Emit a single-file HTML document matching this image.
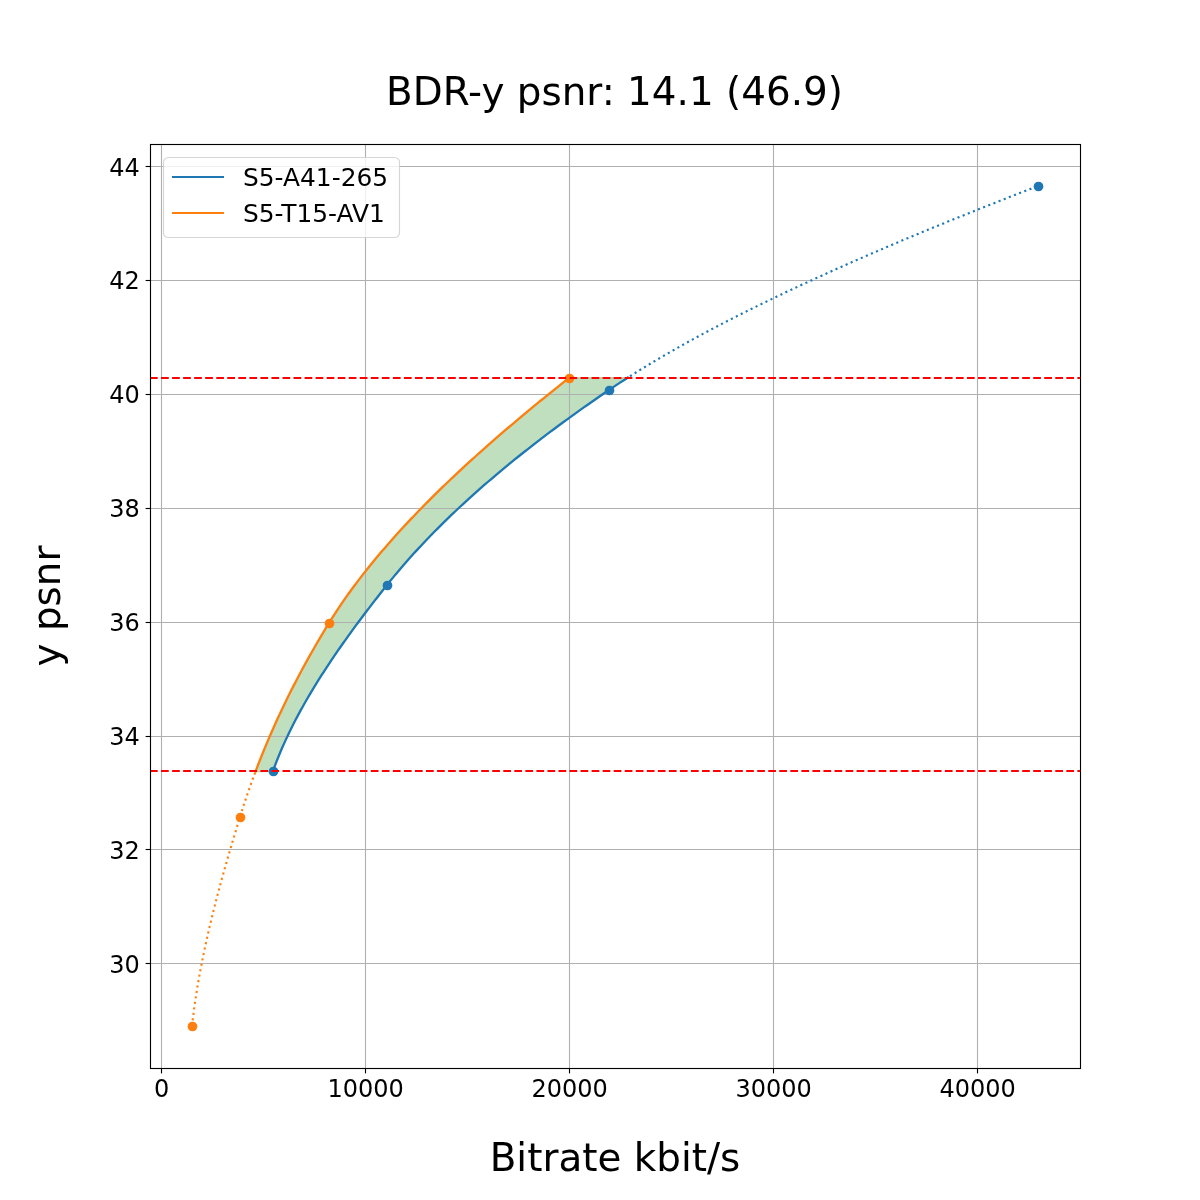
<!DOCTYPE html>
<html lang="en"><head><meta charset="utf-8"><title>BDR-y psnr</title>
<style>html,body{margin:0;padding:0;background:#fff}body{width:1200px;height:1200px;overflow:hidden}svg{display:block}</style>
</head><body>
<svg width="1200" height="1200" viewBox="0 0 1200 1200">
<rect x="0" y="0" width="1200" height="1200" fill="#ffffff"/>
<defs><clipPath id="axclip"><rect x="150" y="144" width="930" height="924"/></clipPath></defs>
<g clip-path="url(#axclip)">
<path d="M255.51 771.60 L256.45 769.12 L257.40 766.65 L258.35 764.17 L259.32 761.69 L260.29 759.21 L261.28 756.74 L262.27 754.26 L263.28 751.78 L264.29 749.30 L265.31 746.83 L266.35 744.35 L267.39 741.87 L268.44 739.39 L269.50 736.92 L270.57 734.44 L271.65 731.96 L272.74 729.48 L273.84 727.01 L274.95 724.53 L276.07 722.05 L277.20 719.58 L278.34 717.10 L279.49 714.62 L280.65 712.14 L281.82 709.67 L283.00 707.19 L284.19 704.71 L285.39 702.23 L286.59 699.76 L287.81 697.28 L289.04 694.80 L290.28 692.32 L291.53 689.85 L292.78 687.37 L294.05 684.89 L295.33 682.42 L296.62 679.94 L297.91 677.46 L299.22 674.98 L300.54 672.51 L301.87 670.03 L303.20 667.55 L304.55 665.07 L305.91 662.60 L307.28 660.12 L308.66 657.64 L310.05 655.16 L311.44 652.69 L312.85 650.21 L314.27 647.73 L315.70 645.25 L317.14 642.78 L318.59 640.30 L320.05 637.82 L321.52 635.35 L323.00 632.87 L324.49 630.39 L325.99 627.91 L327.50 625.44 L329.03 622.96 L330.56 620.48 L332.12 618.00 L333.70 615.53 L335.31 613.05 L336.93 610.57 L338.58 608.09 L340.24 605.62 L341.93 603.14 L343.64 600.66 L345.37 598.18 L347.12 595.71 L348.89 593.23 L350.68 590.75 L352.49 588.28 L354.33 585.80 L356.18 583.32 L358.05 580.84 L359.94 578.37 L361.86 575.89 L363.79 573.41 L365.74 570.93 L367.71 568.46 L369.70 565.98 L371.71 563.50 L373.74 561.02 L375.79 558.55 L377.85 556.07 L379.94 553.59 L382.05 551.12 L384.17 548.64 L386.31 546.16 L388.47 543.68 L390.65 541.21 L392.85 538.73 L395.06 536.25 L397.29 533.77 L399.54 531.30 L401.81 528.82 L404.10 526.34 L406.40 523.86 L408.72 521.39 L411.06 518.91 L413.42 516.43 L415.79 513.95 L418.18 511.48 L420.59 509.00 L423.01 506.52 L425.45 504.05 L427.91 501.57 L430.38 499.09 L432.87 496.61 L435.37 494.14 L437.90 491.66 L440.43 489.18 L442.99 486.70 L445.56 484.23 L448.14 481.75 L450.74 479.27 L453.36 476.79 L455.99 474.32 L458.63 471.84 L461.30 469.36 L463.97 466.88 L466.66 464.41 L469.37 461.93 L472.09 459.45 L474.83 456.98 L477.58 454.50 L480.34 452.02 L483.12 449.54 L485.91 447.07 L488.72 444.59 L491.54 442.11 L494.37 439.63 L497.22 437.16 L500.08 434.68 L502.96 432.20 L505.84 429.72 L508.75 427.25 L511.66 424.77 L514.59 422.29 L517.53 419.82 L520.48 417.34 L523.45 414.86 L526.43 412.38 L529.42 409.91 L532.42 407.43 L535.44 404.95 L538.46 402.47 L541.50 400.00 L544.55 397.52 L547.62 395.04 L550.69 392.56 L553.78 390.09 L556.88 387.61 L559.99 385.13 L563.11 382.65 L566.24 380.18 L569.38 377.70 L627.69 377.70 L623.84 380.18 L620.03 382.65 L616.26 385.13 L612.54 387.61 L608.87 390.09 L605.23 392.56 L601.61 395.04 L598.01 397.52 L594.43 400.00 L590.88 402.47 L587.34 404.95 L583.82 407.43 L580.33 409.91 L576.85 412.38 L573.40 414.86 L569.97 417.34 L566.55 419.82 L563.16 422.29 L559.79 424.77 L556.44 427.25 L553.11 429.72 L549.80 432.20 L546.52 434.68 L543.25 437.16 L540.01 439.63 L536.78 442.11 L533.58 444.59 L530.40 447.07 L527.24 449.54 L524.10 452.02 L520.98 454.50 L517.88 456.98 L514.80 459.45 L511.75 461.93 L508.71 464.41 L505.70 466.88 L502.71 469.36 L499.74 471.84 L496.79 474.32 L493.86 476.79 L490.95 479.27 L488.07 481.75 L485.20 484.23 L482.36 486.70 L479.54 489.18 L476.74 491.66 L473.96 494.14 L471.20 496.61 L468.47 499.09 L465.75 501.57 L463.06 504.05 L460.39 506.52 L457.74 509.00 L455.11 511.48 L452.50 513.95 L449.92 516.43 L447.35 518.91 L444.81 521.39 L442.29 523.86 L439.79 526.34 L437.31 528.82 L434.86 531.30 L432.43 533.77 L430.01 536.25 L427.62 538.73 L425.25 541.21 L422.91 543.68 L420.58 546.16 L418.28 548.64 L416.00 551.12 L413.74 553.59 L411.50 556.07 L409.29 558.55 L407.09 561.02 L404.92 563.50 L402.77 565.98 L400.64 568.46 L398.54 570.93 L396.45 573.41 L394.39 575.89 L392.35 578.37 L390.34 580.84 L388.34 583.32 L386.37 585.80 L384.40 588.28 L382.45 590.75 L380.50 593.23 L378.56 595.71 L376.62 598.18 L374.70 600.66 L372.78 603.14 L370.88 605.62 L368.98 608.09 L367.09 610.57 L365.20 613.05 L363.33 615.53 L361.47 618.00 L359.62 620.48 L357.78 622.96 L355.94 625.44 L354.12 627.91 L352.31 630.39 L350.51 632.87 L348.72 635.35 L346.94 637.82 L345.17 640.30 L343.42 642.78 L341.67 645.25 L339.94 647.73 L338.22 650.21 L336.51 652.69 L334.81 655.16 L333.13 657.64 L331.46 660.12 L329.80 662.60 L328.16 665.07 L326.53 667.55 L324.91 670.03 L323.31 672.51 L321.72 674.98 L320.14 677.46 L318.58 679.94 L317.04 682.42 L315.51 684.89 L313.99 687.37 L312.49 689.85 L311.00 692.32 L309.53 694.80 L308.08 697.28 L306.64 699.76 L305.22 702.23 L303.82 704.71 L302.43 707.19 L301.05 709.67 L299.70 712.14 L298.36 714.62 L297.04 717.10 L295.74 719.58 L294.45 722.05 L293.19 724.53 L291.94 727.01 L290.71 729.48 L289.49 731.96 L288.30 734.44 L287.13 736.92 L285.97 739.39 L284.84 741.87 L283.72 744.35 L282.62 746.83 L281.55 749.30 L280.49 751.78 L279.45 754.26 L278.44 756.74 L277.44 759.21 L276.47 761.69 L275.52 764.17 L274.59 766.65 L273.68 769.12 L272.79 771.60 Z" fill="#008000" fill-opacity="0.25" stroke="#008000" stroke-opacity="0.25" stroke-width="1.39" stroke-linejoin="miter"/>
<g stroke="#b0b0b0" stroke-width="1.11" fill="none">
<line x1="161.5" y1="144.5" x2="161.5" y2="1068.5"/>
<line x1="365.5" y1="144.5" x2="365.5" y2="1068.5"/>
<line x1="569.5" y1="144.5" x2="569.5" y2="1068.5"/>
<line x1="773.5" y1="144.5" x2="773.5" y2="1068.5"/>
<line x1="977.5" y1="144.5" x2="977.5" y2="1068.5"/>
<line x1="150.5" y1="166.5" x2="1080.5" y2="166.5"/>
<line x1="150.5" y1="280.5" x2="1080.5" y2="280.5"/>
<line x1="150.5" y1="394.5" x2="1080.5" y2="394.5"/>
<line x1="150.5" y1="508.5" x2="1080.5" y2="508.5"/>
<line x1="150.5" y1="622.5" x2="1080.5" y2="622.5"/>
<line x1="150.5" y1="736.5" x2="1080.5" y2="736.5"/>
<line x1="150.5" y1="849.5" x2="1080.5" y2="849.5"/>
<line x1="150.5" y1="963.5" x2="1080.5" y2="963.5"/>
</g>
<path d="M272.79 771.60 L273.68 769.12 L274.59 766.65 L275.52 764.17 L276.47 761.69 L277.44 759.21 L278.44 756.74 L279.45 754.26 L280.49 751.78 L281.55 749.30 L282.62 746.83 L283.72 744.35 L284.84 741.87 L285.97 739.39 L287.13 736.92 L288.30 734.44 L289.49 731.96 L290.71 729.48 L291.94 727.01 L293.19 724.53 L294.45 722.05 L295.74 719.58 L297.04 717.10 L298.36 714.62 L299.70 712.14 L301.05 709.67 L302.43 707.19 L303.82 704.71 L305.22 702.23 L306.64 699.76 L308.08 697.28 L309.53 694.80 L311.00 692.32 L312.49 689.85 L313.99 687.37 L315.51 684.89 L317.04 682.42 L318.58 679.94 L320.14 677.46 L321.72 674.98 L323.31 672.51 L324.91 670.03 L326.53 667.55 L328.16 665.07 L329.80 662.60 L331.46 660.12 L333.13 657.64 L334.81 655.16 L336.51 652.69 L338.22 650.21 L339.94 647.73 L341.67 645.25 L343.42 642.78 L345.17 640.30 L346.94 637.82 L348.72 635.35 L350.51 632.87 L352.31 630.39 L354.12 627.91 L355.94 625.44 L357.78 622.96 L359.62 620.48 L361.47 618.00 L363.33 615.53 L365.20 613.05 L367.09 610.57 L368.98 608.09 L370.88 605.62 L372.78 603.14 L374.70 600.66 L376.62 598.18 L378.56 595.71 L380.50 593.23 L382.45 590.75 L384.40 588.28 L386.37 585.80 L388.34 583.32 L390.34 580.84 L392.35 578.37 L394.39 575.89 L396.45 573.41 L398.54 570.93 L400.64 568.46 L402.77 565.98 L404.92 563.50 L407.09 561.02 L409.29 558.55 L411.50 556.07 L413.74 553.59 L416.00 551.12 L418.28 548.64 L420.58 546.16 L422.91 543.68 L425.25 541.21 L427.62 538.73 L430.01 536.25 L432.43 533.77 L434.86 531.30 L437.31 528.82 L439.79 526.34 L442.29 523.86 L444.81 521.39 L447.35 518.91 L449.92 516.43 L452.50 513.95 L455.11 511.48 L457.74 509.00 L460.39 506.52 L463.06 504.05 L465.75 501.57 L468.47 499.09 L471.20 496.61 L473.96 494.14 L476.74 491.66 L479.54 489.18 L482.36 486.70 L485.20 484.23 L488.07 481.75 L490.95 479.27 L493.86 476.79 L496.79 474.32 L499.74 471.84 L502.71 469.36 L505.70 466.88 L508.71 464.41 L511.75 461.93 L514.80 459.45 L517.88 456.98 L520.98 454.50 L524.10 452.02 L527.24 449.54 L530.40 447.07 L533.58 444.59 L536.78 442.11 L540.01 439.63 L543.25 437.16 L546.52 434.68 L549.80 432.20 L553.11 429.72 L556.44 427.25 L559.79 424.77 L563.16 422.29 L566.55 419.82 L569.97 417.34 L573.40 414.86 L576.85 412.38 L580.33 409.91 L583.82 407.43 L587.34 404.95 L590.88 402.47 L594.43 400.00 L598.01 397.52 L601.61 395.04 L605.23 392.56 L608.87 390.09 L612.54 387.61 L616.26 385.13 L620.03 382.65 L623.84 380.18 L627.69 377.70" fill="none" stroke="#1f77b4" stroke-width="2.3" stroke-linecap="square" stroke-linejoin="round"/>
<path d="M627.22 378.00 L628.59 377.12 L629.97 376.25 L631.36 375.37 L632.75 374.49 L634.14 373.62 L635.54 372.74 L636.95 371.86 L638.36 370.99 L639.77 370.11 L641.20 369.23 L642.62 368.36 L644.06 367.48 L645.50 366.60 L646.94 365.73 L648.39 364.85 L649.84 363.97 L651.30 363.10 L652.77 362.22 L654.24 361.34 L655.72 360.47 L657.20 359.59 L658.69 358.71 L660.18 357.84 L661.68 356.96 L663.18 356.08 L664.69 355.21 L666.20 354.33 L667.72 353.45 L669.24 352.58 L670.77 351.70 L672.30 350.82 L673.84 349.95 L675.39 349.07 L676.94 348.19 L678.49 347.32 L680.05 346.44 L681.62 345.56 L683.19 344.68 L684.76 343.81 L686.34 342.93 L687.93 342.05 L689.52 341.18 L691.11 340.30 L692.71 339.42 L694.32 338.55 L695.93 337.67 L697.54 336.79 L699.16 335.92 L700.79 335.04 L702.42 334.16 L704.05 333.29 L705.69 332.41 L707.34 331.53 L708.99 330.66 L710.64 329.78 L712.30 328.90 L713.97 328.03 L715.64 327.15 L717.31 326.27 L718.99 325.40 L720.67 324.52 L722.36 323.64 L724.05 322.77 L725.75 321.89 L727.45 321.01 L729.16 320.14 L730.87 319.26 L732.59 318.38 L734.31 317.51 L736.04 316.63 L737.77 315.75 L739.50 314.88 L741.24 314.00 L742.99 313.12 L744.74 312.25 L746.49 311.37 L748.25 310.49 L750.01 309.62 L751.78 308.74 L753.55 307.86 L755.33 306.99 L757.11 306.11 L758.89 305.23 L760.68 304.36 L762.48 303.48 L764.28 302.60 L766.08 301.73 L767.89 300.85 L769.70 299.97 L771.52 299.10 L773.34 298.22 L775.16 297.34 L776.99 296.47 L778.83 295.59 L780.67 294.71 L782.51 293.84 L784.36 292.96 L786.21 292.08 L788.06 291.21 L789.92 290.33 L791.79 289.45 L793.66 288.58 L795.53 287.70 L797.41 286.82 L799.29 285.95 L801.17 285.07 L803.06 284.19 L804.96 283.32 L806.85 282.44 L808.76 281.56 L810.66 280.68 L812.57 279.81 L814.49 278.93 L816.41 278.05 L818.33 277.18 L820.26 276.30 L822.19 275.42 L824.12 274.55 L826.06 273.67 L828.00 272.79 L829.95 271.92 L831.90 271.04 L833.85 270.16 L835.81 269.29 L837.78 268.41 L839.74 267.53 L841.71 266.66 L843.69 265.78 L845.67 264.90 L847.65 264.03 L849.63 263.15 L851.62 262.27 L853.62 261.40 L855.62 260.52 L857.62 259.64 L859.62 258.77 L861.63 257.89 L863.64 257.01 L865.66 256.14 L867.68 255.26 L869.70 254.38 L871.73 253.51 L873.76 252.63 L875.80 251.75 L877.84 250.88 L879.88 250.00 L881.93 249.12 L883.98 248.25 L886.03 247.37 L888.09 246.49 L890.15 245.62 L892.21 244.74 L894.28 243.86 L896.35 242.99 L898.43 242.11 L900.50 241.23 L902.59 240.36 L904.67 239.48 L906.76 238.60 L908.85 237.73 L910.95 236.85 L913.05 235.97 L915.15 235.10 L917.26 234.22 L919.37 233.34 L921.48 232.47 L923.60 231.59 L925.72 230.71 L927.84 229.84 L929.97 228.96 L932.10 228.08 L934.23 227.21 L936.37 226.33 L938.51 225.45 L940.65 224.58 L942.80 223.70 L944.95 222.82 L947.10 221.95 L949.25 221.07 L951.41 220.19 L953.58 219.32 L955.74 218.44 L957.91 217.56 L960.08 216.68 L962.26 215.81 L964.44 214.93 L966.62 214.05 L968.80 213.18 L970.99 212.30 L973.18 211.42 L975.38 210.55 L977.57 209.67 L979.77 208.79 L981.98 207.92 L984.18 207.04 L986.39 206.16 L988.60 205.29 L990.82 204.41 L993.04 203.53 L995.26 202.66 L997.48 201.78 L999.71 200.90 L1001.94 200.03 L1004.17 199.15 L1006.41 198.27 L1008.64 197.40 L1010.89 196.52 L1013.13 195.64 L1015.38 194.77 L1017.63 193.89 L1019.88 193.01 L1022.13 192.14 L1024.39 191.26 L1026.65 190.38 L1028.92 189.51 L1031.18 188.63 L1033.45 187.75 L1035.73 186.88 L1038.00 186.00" fill="none" stroke="#1f77b4" stroke-width="2.15" stroke-dasharray="2.083 3.437" stroke-dashoffset="2.2" stroke-linejoin="round"/>
<circle cx="273.5" cy="771.5" r="4.85" fill="#1f77b4"/>
<circle cx="387.5" cy="585.5" r="4.85" fill="#1f77b4"/>
<circle cx="609.5" cy="390.5" r="4.85" fill="#1f77b4"/>
<circle cx="1038.5" cy="186.5" r="4.85" fill="#1f77b4"/>
<path d="M255.51 771.60 L256.45 769.12 L257.40 766.65 L258.35 764.17 L259.32 761.69 L260.29 759.21 L261.28 756.74 L262.27 754.26 L263.28 751.78 L264.29 749.30 L265.31 746.83 L266.35 744.35 L267.39 741.87 L268.44 739.39 L269.50 736.92 L270.57 734.44 L271.65 731.96 L272.74 729.48 L273.84 727.01 L274.95 724.53 L276.07 722.05 L277.20 719.58 L278.34 717.10 L279.49 714.62 L280.65 712.14 L281.82 709.67 L283.00 707.19 L284.19 704.71 L285.39 702.23 L286.59 699.76 L287.81 697.28 L289.04 694.80 L290.28 692.32 L291.53 689.85 L292.78 687.37 L294.05 684.89 L295.33 682.42 L296.62 679.94 L297.91 677.46 L299.22 674.98 L300.54 672.51 L301.87 670.03 L303.20 667.55 L304.55 665.07 L305.91 662.60 L307.28 660.12 L308.66 657.64 L310.05 655.16 L311.44 652.69 L312.85 650.21 L314.27 647.73 L315.70 645.25 L317.14 642.78 L318.59 640.30 L320.05 637.82 L321.52 635.35 L323.00 632.87 L324.49 630.39 L325.99 627.91 L327.50 625.44 L329.03 622.96 L330.56 620.48 L332.12 618.00 L333.70 615.53 L335.31 613.05 L336.93 610.57 L338.58 608.09 L340.24 605.62 L341.93 603.14 L343.64 600.66 L345.37 598.18 L347.12 595.71 L348.89 593.23 L350.68 590.75 L352.49 588.28 L354.33 585.80 L356.18 583.32 L358.05 580.84 L359.94 578.37 L361.86 575.89 L363.79 573.41 L365.74 570.93 L367.71 568.46 L369.70 565.98 L371.71 563.50 L373.74 561.02 L375.79 558.55 L377.85 556.07 L379.94 553.59 L382.05 551.12 L384.17 548.64 L386.31 546.16 L388.47 543.68 L390.65 541.21 L392.85 538.73 L395.06 536.25 L397.29 533.77 L399.54 531.30 L401.81 528.82 L404.10 526.34 L406.40 523.86 L408.72 521.39 L411.06 518.91 L413.42 516.43 L415.79 513.95 L418.18 511.48 L420.59 509.00 L423.01 506.52 L425.45 504.05 L427.91 501.57 L430.38 499.09 L432.87 496.61 L435.37 494.14 L437.90 491.66 L440.43 489.18 L442.99 486.70 L445.56 484.23 L448.14 481.75 L450.74 479.27 L453.36 476.79 L455.99 474.32 L458.63 471.84 L461.30 469.36 L463.97 466.88 L466.66 464.41 L469.37 461.93 L472.09 459.45 L474.83 456.98 L477.58 454.50 L480.34 452.02 L483.12 449.54 L485.91 447.07 L488.72 444.59 L491.54 442.11 L494.37 439.63 L497.22 437.16 L500.08 434.68 L502.96 432.20 L505.84 429.72 L508.75 427.25 L511.66 424.77 L514.59 422.29 L517.53 419.82 L520.48 417.34 L523.45 414.86 L526.43 412.38 L529.42 409.91 L532.42 407.43 L535.44 404.95 L538.46 402.47 L541.50 400.00 L544.55 397.52 L547.62 395.04 L550.69 392.56 L553.78 390.09 L556.88 387.61 L559.99 385.13 L563.11 382.65 L566.24 380.18 L569.38 377.70" fill="none" stroke="#ff7f0e" stroke-width="2.3" stroke-linecap="square" stroke-linejoin="round"/>
<path d="M255.74 771.00 L255.14 772.60 L254.54 774.21 L253.94 775.81 L253.35 777.42 L252.76 779.02 L252.18 780.62 L251.60 782.23 L251.03 783.83 L250.45 785.43 L249.89 787.04 L249.32 788.64 L248.76 790.25 L248.21 791.85 L247.65 793.45 L247.11 795.06 L246.56 796.66 L246.02 798.26 L245.49 799.87 L244.95 801.47 L244.43 803.08 L243.90 804.68 L243.38 806.28 L242.86 807.89 L242.35 809.49 L241.84 811.09 L241.34 812.70 L240.83 814.30 L240.34 815.91 L239.84 817.51 L239.35 819.11 L238.86 820.72 L238.37 822.32 L237.88 823.92 L237.39 825.53 L236.90 827.13 L236.42 828.74 L235.93 830.34 L235.45 831.94 L234.97 833.55 L234.48 835.15 L234.00 836.75 L233.52 838.36 L233.05 839.96 L232.57 841.57 L232.09 843.17 L231.62 844.77 L231.15 846.38 L230.67 847.98 L230.20 849.58 L229.73 851.19 L229.27 852.79 L228.80 854.40 L228.33 856.00 L227.87 857.60 L227.41 859.21 L226.95 860.81 L226.49 862.42 L226.03 864.02 L225.58 865.62 L225.12 867.23 L224.67 868.83 L224.22 870.43 L223.77 872.04 L223.32 873.64 L222.88 875.25 L222.43 876.85 L221.99 878.45 L221.55 880.06 L221.11 881.66 L220.68 883.26 L220.24 884.87 L219.81 886.47 L219.38 888.08 L218.95 889.68 L218.52 891.28 L218.09 892.89 L217.67 894.49 L217.25 896.09 L216.83 897.70 L216.41 899.30 L216.00 900.91 L215.59 902.51 L215.18 904.11 L214.77 905.72 L214.36 907.32 L213.96 908.92 L213.55 910.53 L213.15 912.13 L212.76 913.74 L212.36 915.34 L211.97 916.94 L211.58 918.55 L211.19 920.15 L210.81 921.75 L210.42 923.36 L210.04 924.96 L209.66 926.57 L209.29 928.17 L208.91 929.77 L208.54 931.38 L208.17 932.98 L207.81 934.58 L207.45 936.19 L207.09 937.79 L206.73 939.40 L206.37 941.00 L206.02 942.60 L205.67 944.21 L205.32 945.81 L204.98 947.42 L204.64 949.02 L204.30 950.62 L203.96 952.23 L203.63 953.83 L203.30 955.43 L202.98 957.04 L202.65 958.64 L202.33 960.25 L202.01 961.85 L201.70 963.45 L201.38 965.06 L201.08 966.66 L200.77 968.26 L200.47 969.87 L200.17 971.47 L199.87 973.08 L199.58 974.68 L199.29 976.28 L199.00 977.89 L198.72 979.49 L198.44 981.09 L198.16 982.70 L197.88 984.30 L197.61 985.91 L197.35 987.51 L197.08 989.11 L196.82 990.72 L196.57 992.32 L196.31 993.92 L196.06 995.53 L195.82 997.13 L195.57 998.74 L195.33 1000.34 L195.10 1001.94 L194.86 1003.55 L194.64 1005.15 L194.41 1006.75 L194.19 1008.36 L193.97 1009.96 L193.76 1011.57 L193.55 1013.17 L193.34 1014.77 L193.14 1016.38 L192.94 1017.98 L192.74 1019.58 L192.55 1021.19 L192.36 1022.79 L192.18 1024.40 L192.00 1026.00" fill="none" stroke="#ff7f0e" stroke-width="2.15" stroke-dasharray="2.083 3.437" stroke-dashoffset="3.85" stroke-linejoin="round"/>
<circle cx="192.5" cy="1026.5" r="4.85" fill="#ff7f0e"/>
<circle cx="240.5" cy="817.5" r="4.85" fill="#ff7f0e"/>
<circle cx="329.5" cy="623.5" r="4.85" fill="#ff7f0e"/>
<circle cx="569.5" cy="378.5" r="4.85" fill="#ff7f0e"/>
<line x1="150" y1="771.0" x2="1080" y2="771.0" stroke="#ff0000" stroke-width="2.083" stroke-dasharray="7.71 3.33"/>
<line x1="150" y1="378.0" x2="1080" y2="378.0" stroke="#ff0000" stroke-width="2.083" stroke-dasharray="7.71 3.33"/>
</g>
<rect x="150.5" y="144.5" width="930.0" height="924.0" fill="none" stroke="#000" stroke-width="1.11"/>
<g stroke="#000" stroke-width="1.11">
<line x1="161.5" y1="1068.5" x2="161.5" y2="1073.4"/>
<line x1="365.5" y1="1068.5" x2="365.5" y2="1073.4"/>
<line x1="569.5" y1="1068.5" x2="569.5" y2="1073.4"/>
<line x1="773.5" y1="1068.5" x2="773.5" y2="1073.4"/>
<line x1="977.5" y1="1068.5" x2="977.5" y2="1073.4"/>
<line x1="150.5" y1="166.5" x2="145.6" y2="166.5"/>
<line x1="150.5" y1="280.5" x2="145.6" y2="280.5"/>
<line x1="150.5" y1="394.5" x2="145.6" y2="394.5"/>
<line x1="150.5" y1="508.5" x2="145.6" y2="508.5"/>
<line x1="150.5" y1="622.5" x2="145.6" y2="622.5"/>
<line x1="150.5" y1="736.5" x2="145.6" y2="736.5"/>
<line x1="150.5" y1="849.5" x2="145.6" y2="849.5"/>
<line x1="150.5" y1="963.5" x2="145.6" y2="963.5"/>
</g>
<g font-family="DejaVu Sans, Liberation Sans, sans-serif" font-size="24" fill="#000">
<text x="161.7" y="1097" text-anchor="middle">0</text>
<text x="365.7" y="1097" text-anchor="middle">10000</text>
<text x="569.7" y="1097" text-anchor="middle">20000</text>
<text x="773.7" y="1097" text-anchor="middle">30000</text>
<text x="977.7" y="1097" text-anchor="middle">40000</text>
<text x="139.8" y="176" text-anchor="end">44</text>
<text x="139.8" y="289" text-anchor="end">42</text>
<text x="139.8" y="403" text-anchor="end">40</text>
<text x="139.8" y="517" text-anchor="end">38</text>
<text x="139.8" y="631" text-anchor="end">36</text>
<text x="139.8" y="745" text-anchor="end">34</text>
<text x="139.8" y="859" text-anchor="end">32</text>
<text x="139.8" y="973" text-anchor="end">30</text>
</g>
<rect x="163.5" y="157.5" width="236" height="80" rx="4.8" ry="4.8" fill="#ffffff" fill-opacity="0.8" stroke="#cccccc" stroke-opacity="0.8" stroke-width="1.15"/>
<line x1="172" y1="177" x2="224" y2="177" stroke="#1f77b4" stroke-width="2.1"/>
<line x1="172" y1="213" x2="224" y2="213" stroke="#ff7f0e" stroke-width="2.1"/>
<g font-family="DejaVu Sans, Liberation Sans, sans-serif" font-size="24.86" fill="#000"><text x="243" y="186">S5-A41-265</text><text x="243" y="222">S5-T15-AV1</text></g>
<text x="614.5" y="104.6" text-anchor="middle" font-family="DejaVu Sans, Liberation Sans, sans-serif" font-size="38.89" fill="#000">BDR-y psnr: 14.1 (46.9)</text>
<text x="615" y="1170.7" text-anchor="middle" font-family="DejaVu Sans, Liberation Sans, sans-serif" font-size="38.89" fill="#000">Bitrate kbit/s</text>
<text transform="translate(60,606) rotate(-90)" text-anchor="middle" font-family="DejaVu Sans, Liberation Sans, sans-serif" font-size="38.89" fill="#000">y psnr</text>
</svg>
</body></html>
